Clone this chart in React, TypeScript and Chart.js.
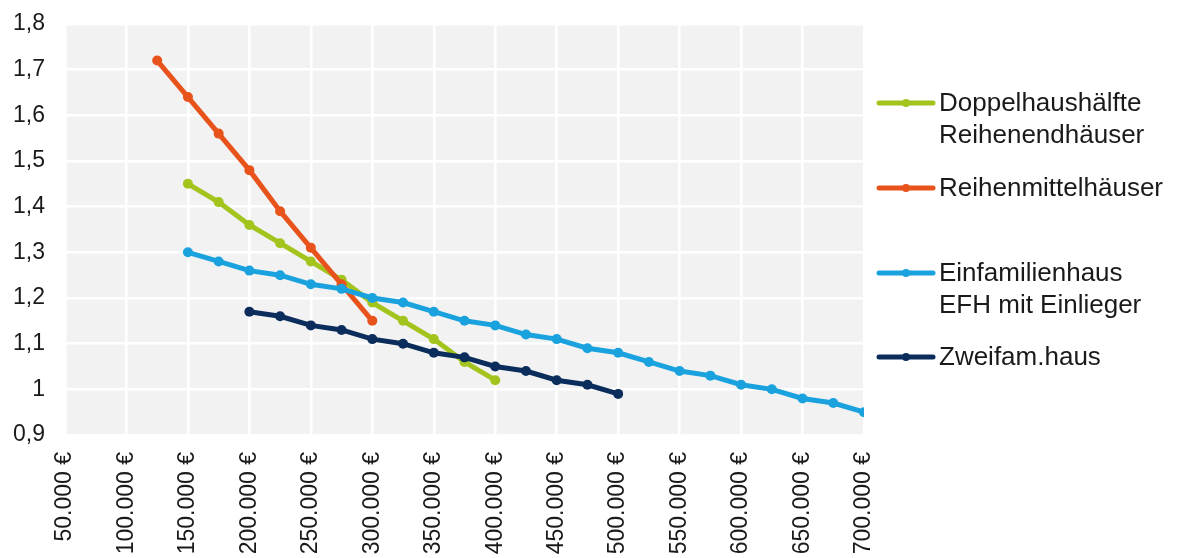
import React, { useEffect, useRef } from "react";
import { Chart, registerables } from "chart.js";

Chart.register(...registerables);

// ---- Data ----
const dhhX = [150000, 175000, 200000, 225000, 250000, 275000, 300000, 325000, 350000, 375000, 400000];
const dhhY = [1.45, 1.41, 1.36, 1.32, 1.28, 1.24, 1.19, 1.15, 1.11, 1.06, 1.02];

const rmhX = [125000, 150000, 175000, 200000, 225000, 250000, 275000, 300000];
const rmhY = [1.72, 1.64, 1.56, 1.48, 1.39, 1.31, 1.23, 1.15];

const efhX = [150000, 175000, 200000, 225000, 250000, 275000, 300000, 325000, 350000, 375000, 400000, 425000, 450000, 475000, 500000, 525000, 550000, 575000, 600000, 625000, 650000, 675000, 700000];
const efhY = [1.30, 1.28, 1.26, 1.25, 1.23, 1.22, 1.20, 1.19, 1.17, 1.15, 1.14, 1.12, 1.11, 1.09, 1.08, 1.06, 1.04, 1.03, 1.01, 1.00, 0.98, 0.97, 0.95];

const zfhX = [200000, 225000, 250000, 275000, 300000, 325000, 350000, 375000, 400000, 425000, 450000, 475000, 500000];
const zfhY = [1.17, 1.16, 1.14, 1.13, 1.11, 1.10, 1.08, 1.07, 1.05, 1.04, 1.02, 1.01, 0.99];

const seriesNames = ["Doppelhaushälfte\nReihenendhäuser", "Reihenmittelhäuser", "Einfamilienhaus\nEFH mit Einlieger", "Zweifam.haus"];
const seriesColors = ["#a2c41c", "#e8531b", "#1aa2de", "#0b2d5c"];

const xMin = 50000;
const xMax = 700000;
const xStep = 50000;
const yMin = 0.9;
const yMax = 1.8;
const yStep = 0.1;

const FONT = "'Liberation Sans', Arial, sans-serif";

function pts(xs: number[], ys: number[]) {
  return xs.map((x, i) => ({ x, y: ys[i] }));
}

function fmtEuro(v: number) {
  const s = Math.round(v).toString().replace(/\B(?=(\d{3})+(?!\d))/g, ".");
  return s + " €";
}

const plotBg = {
  id: "plotBg",
  beforeDraw(chart: any) {
    const { ctx, chartArea } = chart;
    ctx.save();
    ctx.fillStyle = "#f2f2f2";
    ctx.fillRect(chartArea.left, chartArea.top, chartArea.right - chartArea.left, chartArea.bottom - chartArea.top);
    ctx.restore();
  },
};

const customLegend = {
  id: "customLegend",
  afterDraw(chart: any) {
    const { ctx } = chart;
    const entryY = [103, 188, 273, 357];
    const lineH = 32;
    ctx.save();
    ctx.font = `26px ${FONT}`;
    ctx.textBaseline = "middle";
    ctx.textAlign = "left";
    seriesNames.forEach((name, i) => {
      const y = entryY[i];
      ctx.strokeStyle = seriesColors[i];
      ctx.lineWidth = 5;
      ctx.lineCap = "round";
      ctx.beginPath();
      ctx.moveTo(879, y);
      ctx.lineTo(933, y);
      ctx.stroke();
      ctx.fillStyle = seriesColors[i];
      ctx.beginPath();
      ctx.arc(906, y, 4, 0, Math.PI * 2);
      ctx.fill();
      ctx.fillStyle = "#1a1a1a";
      name.split("\n").forEach((line, j) => {
        ctx.fillText(line, 939, y + 1 + j * lineH);
      });
    });
    ctx.restore();
  },
};

export default function App() {
  const canvasRef = useRef<HTMLCanvasElement | null>(null);

  useEffect(() => {
    if (!canvasRef.current) return;
    const data = [pts(dhhX, dhhY), pts(rmhX, rmhY), pts(efhX, efhY), pts(zfhX, zfhY)];
    const orders = [4, 3, 2, 1];
    const chart = new Chart(canvasRef.current, {
      type: "line",
      data: {
        datasets: data.map((d, i) => ({
          label: seriesNames[i].replace("\n", " "),
          data: d,
          borderColor: seriesColors[i],
          backgroundColor: seriesColors[i],
          borderWidth: 5,
          pointRadius: 5,
          pointBorderWidth: 0,
          pointBackgroundColor: seriesColors[i],
          tension: 0,
          fill: false,
          order: orders[i],
        })),
      },
      options: {
        animation: false,
        responsive: false,
        maintainAspectRatio: false,
        layout: { padding: { top: 24, right: 313, left: 0, bottom: 0 } },
        plugins: {
          legend: { display: false },
          tooltip: { enabled: false },
        },
        scales: {
          x: {
            type: "linear",
            min: xMin,
            max: xMax,
            border: { display: false },
            grid: { color: "#ffffff", lineWidth: 2.5, drawTicks: false },
            ticks: {
              stepSize: xStep,
              autoSkip: false,
              maxRotation: 90,
              minRotation: 90,
              padding: 17,
              color: "#1a1a1a",
              font: { family: FONT, size: 23 },
              callback: (v: any) => fmtEuro(Number(v)),
            },
            afterFit: (s: any) => {
              s.height = 123;
            },
          },
          y: {
            type: "linear",
            min: yMin,
            max: yMax,
            border: { display: false },
            grid: {
              color: "#ffffff",
              lineWidth: 2.5,
              drawTicks: true,
              tickLength: 20,
              tickColor: "rgba(0,0,0,0)",
            },
            ticks: {
              stepSize: yStep,
              padding: 0,
              color: "#1a1a1a",
              font: { family: FONT, size: 23 },
              callback: (v: any) => String(Number(Number(v).toFixed(1))).replace(".", ","),
            },
            afterFit: (s: any) => {
              s.width = 65;
            },
          },
        },
      },
      plugins: [plotBg, customLegend],
    });
    return () => chart.destroy();
  }, []);

  return (
    <div style={{ position: "fixed", left: 0, top: 0, width: 1177, height: 558, background: "#ffffff" }}>
      <canvas ref={canvasRef} width={1177} height={558} style={{ display: "block", width: 1177, height: 558 }} />
    </div>
  );
}
